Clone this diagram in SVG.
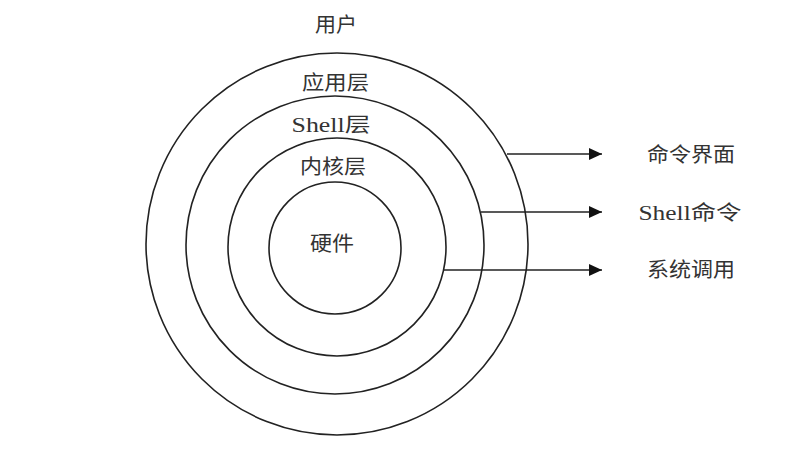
<svg xmlns="http://www.w3.org/2000/svg" width="785" height="454" viewBox="0 0 785 454">
<style>
.ring{fill:none;stroke:#222;stroke-width:1.6}
.lbl{font-family:"Liberation Serif","Noto Sans CJK SC",serif;font-size:20px;fill:#333;text-anchor:middle}
.conn{stroke:#222;stroke-width:1.6;fill:none}
</style>
<defs>
<marker id="ah" markerUnits="userSpaceOnUse" markerWidth="14" markerHeight="14" refX="13" refY="6" orient="auto">
<path d="M0,0 L13,6 L0,12 Z" fill="#111"/>
</marker>
</defs>
<rect width="785" height="454" fill="#fff"/>
<text class="lbl" x="336" y="32" textLength="42" lengthAdjust="spacingAndGlyphs">用户</text>
<g id="user-layer"><circle class="ring" cx="337" cy="244" r="191"/><text class="lbl" x="335.5" y="90" textLength="67" lengthAdjust="spacingAndGlyphs">应用层</text></g>
<g id="shell-layer"><circle class="ring" cx="335" cy="245" r="149"/><text class="lbl" x="331" y="132" textLength="79" lengthAdjust="spacingAndGlyphs">Shell层</text></g>
<g id="kernel-layer"><circle class="ring" cx="337" cy="247" r="109"/><text class="lbl" x="333" y="174" textLength="66" lengthAdjust="spacingAndGlyphs">内核层</text></g>
<g id="hardware"><circle class="ring" cx="335" cy="248" r="66"/><text class="lbl" x="332" y="251" textLength="44" lengthAdjust="spacingAndGlyphs">硬件</text></g>
<g id="connectors">
<line class="conn" x1="507" y1="154" x2="602" y2="154" marker-end="url(#ah)"/>
<line class="conn" x1="481" y1="212" x2="602" y2="212" marker-end="url(#ah)"/>
<line class="conn" x1="443" y1="270" x2="602" y2="270" marker-end="url(#ah)"/>
</g>
<g id="label-cli"><text class="lbl" x="691" y="162" textLength="88" lengthAdjust="spacingAndGlyphs">命令界面</text></g>
<g id="label-shellcmd"><text class="lbl" x="690" y="220" textLength="103" lengthAdjust="spacingAndGlyphs">Shell命令</text></g>
<g id="label-syscall"><text class="lbl" x="691" y="277" textLength="88" lengthAdjust="spacingAndGlyphs">系统调用</text></g>
</svg>
